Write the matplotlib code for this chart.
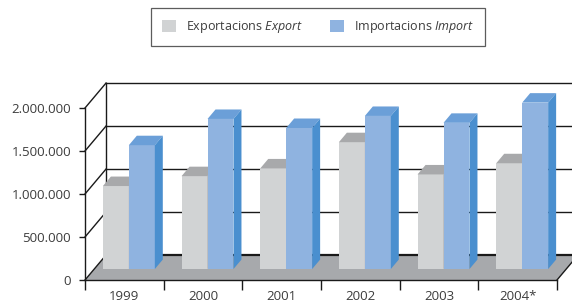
#!/usr/bin/env python3
"""Exportacions / Importacions 1999-2004, pseudo-3D column chart"""
import matplotlib
matplotlib.use('Agg')
import matplotlib.pyplot as plt
from matplotlib.patches import Polygon, Patch

plt.rcParams['font.family'] = ['Open Sans', 'DejaVu Sans']
plt.rcParams['mathtext.fontset'] = 'custom'
plt.rcParams['mathtext.rm'] = 'Open Sans'
plt.rcParams['mathtext.it'] = 'Open Sans:italic'

# Data
years = ['1999', '2000', '2001', '2002', '2003', '2004*']
exports = [965000, 1080000, 1170000, 1475000, 1100000, 1230000]
imports = [1440000, 1745000, 1640000, 1780000, 1700000, 1935000]
yticks = [0, 500000, 1000000, 1500000, 2000000]

# Colours
c_exp_front = '#d1d3d4'
c_exp_top = '#a8a9ab'
c_imp_front = '#8fb3e0'
c_imp_top = '#6b9fd8'
c_imp_side = '#4a8fcf'
c_floor = '#a7a9ac'
c_text = '#3c3c3c'

# Depth geometry (in data units of the front plane)
DX, DY = 0.267, 290000      # back wall offset
BAR_F = 0.44                # bars sit at this fraction of the depth
BAR_D = 0.38                # bar depth as fraction of the full depth
BAR_OFF, BAR_W = 0.11, 0.33

n = len(years)
fig = plt.figure(figsize=(5.72, 3.08), dpi=100)
ax = fig.add_axes([85 / 572, 28 / 308, 472 / 572, 172 / 308])
ax.set_xlim(0, n)
ax.set_ylim(0, 2000000)
ax.patch.set_visible(False)

line_kw = dict(color='#1a1a1a', lw=1.0, clip_on=False)

# Floor
ax.add_patch(Polygon([(0, 0), (n, 0), (n + DX, DY), (DX, DY)], closed=True,
                     facecolor=c_floor, edgecolor='none', zorder=1, clip_on=False))
ax.plot([n, n + DX], [0, DY], **line_kw, zorder=2)
ax.plot([DX, n + DX], [DY, DY], color='#1a1a1a', lw=1.6, clip_on=False, zorder=2)

# Back wall grid and side diagonals
for v in yticks[1:]:
    ax.plot([DX, n + DX], [v + DY, v + DY], **line_kw, zorder=2)
for v in yticks:
    ax.plot([0, DX], [v, v + DY], **line_kw, zorder=2)
ax.plot([DX, DX], [DY, 2000000 + DY], **line_kw, zorder=2)

# Bars
bx, by = BAR_F * DX, BAR_F * DY
dx, dy = BAR_D * DX, BAR_D * DY


def draw_bar(x0, val, front, top, side, z):
    x0 = x0 + bx
    x1 = x0 + BAR_W
    ax.bar(x0, val, BAR_W, bottom=by, align='edge', color=front,
           edgecolor='none', zorder=z, clip_on=False)
    h = by + val
    ax.add_patch(Polygon([(x0, h), (x1, h), (x1 + dx, h + dy), (x0 + dx, h + dy)],
                         facecolor=top, edgecolor='none', zorder=z, clip_on=False))
    ax.add_patch(Polygon([(x1, by), (x1, h), (x1 + dx, h + dy), (x1 + dx, by + dy)],
                         facecolor=side, edgecolor='none', zorder=z, clip_on=False))


for i in range(n):
    draw_bar(i + BAR_OFF, exports[i], c_exp_front, c_exp_top, c_exp_top, 3 + 2 * i)
    draw_bar(i + BAR_OFF + BAR_W, imports[i], c_imp_front, c_imp_top, c_imp_side, 4 + 2 * i)

# Front axes
for s in ['top', 'right']:
    ax.spines[s].set_visible(False)
for s in ['left', 'bottom']:
    ax.spines[s].set_color('#1a1a1a')
    ax.spines[s].set_linewidth(1.0)
    ax.spines[s].set_zorder(20)

ax.set_yticks(yticks)
ax.set_yticklabels([f'{v:,}'.replace(',', '.') for v in yticks])
ax.tick_params(axis='y', length=4, width=1.0, color='#1a1a1a', pad=6,
               labelsize=9.5, labelcolor=c_text)
ax.set_xticks(range(n + 1))
ax.set_xticklabels([])
ax.tick_params(axis='x', which='major', length=7.5, width=1.0, color='#1a1a1a')
ax.set_xticks([i + 0.5 for i in range(n)], minor=True)
ax.set_xticklabels(years, minor=True)
ax.tick_params(axis='x', which='minor', length=0, pad=7, labelsize=9.5, labelcolor=c_text)

# Legend
handles = [Patch(facecolor=c_exp_front, edgecolor='none'),
           Patch(facecolor=c_imp_front, edgecolor='none')]
labels = [r'Exportacions $\it{Export}$', r'Importacions $\it{Import}$']
leg = fig.legend(handles, labels, loc='center', bbox_to_anchor=(318 / 572, 1 - 27 / 308),
                 ncol=2, frameon=True, fancybox=False, fontsize=9,
                 handlelength=1.1, handleheight=1.1, handletextpad=0.8,
                 columnspacing=2.2, borderpad=0.9, labelcolor=c_text)
leg.get_frame().set_edgecolor('#333333')
leg.get_frame().set_linewidth(0.9)

fig.savefig('out.png', dpi=100)
print('saved out.png')
